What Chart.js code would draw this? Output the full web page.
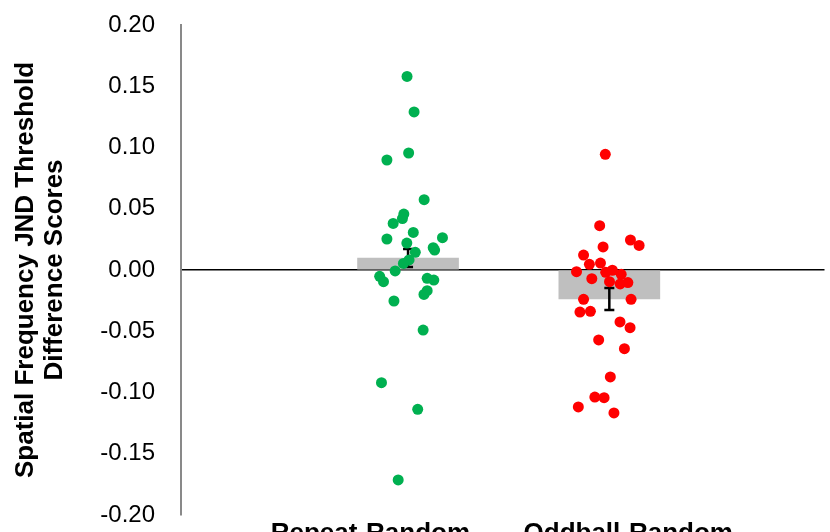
<!DOCTYPE html>
<html>
<head>
<meta charset="utf-8">
<script src="https://cdn.jsdelivr.net/npm/chart.js@4.4.1/dist/chart.umd.min.js"></script>
<style>
  body { margin: 0; background: #fff; overflow: hidden; }
  canvas { display: block; }
</style>
</head>
<body>
<canvas id="chart" width="830" height="532"></canvas>
<script>
// Category labels and where they sit on the x scale
const categories = ['Repeat-Random', 'Oddball-Random'];
const categoryTickPos = [0.813, 2.094];

// Mean difference scores (bars) and standard errors
const barPos = [1, 2];
const barMeans = [0.0098, -0.0237];
const barErrors = [0.0073, 0.0090];

// Individual participant scores (jittered x around the category)
const repeatX = [0.995, 1.030, 1.003, 0.895, 1.080, 0.979, 0.972, 0.926, 1.026, 0.895,
                 1.171, 0.994, 1.125, 1.132, 1.036, 1.005, 0.977, 0.936, 0.859, 0.878,
                 1.095, 1.128, 1.095, 1.079, 0.930, 1.075, 0.868, 1.048, 0.951];
const repeatY = [0.158, 0.129, 0.0955, 0.0898, 0.0574, 0.0457, 0.042, 0.038, 0.0307, 0.0253,
                 0.0264, 0.022, 0.0182, 0.0163, 0.0144, 0.0082, 0.0054, -0.0008, -0.0052, -0.0095,
                 -0.0068, -0.0082, -0.0169, -0.0199, -0.0253, -0.049, -0.092, -0.1137, -0.1714];

const oddballX = [1.980, 1.952, 2.105, 2.148, 1.969, 1.872, 1.901, 1.956, 1.837, 1.913,
                  1.982, 2.015, 2.059, 2.001, 2.054, 2.092, 1.872, 2.108, 1.854, 1.906,
                  2.053, 2.103, 1.947, 2.075, 2.005, 1.928, 1.974, 1.846, 2.023];
const oddballY = [0.0944, 0.0362, 0.0245, 0.0201, 0.0188, 0.0122, 0.0046, 0.0057, -0.0014, -0.0071,
                  -0.0019, -0.0002, -0.0035, -0.0095, -0.0114, -0.0103, -0.0239, -0.0239, -0.0343, -0.0337,
                  -0.0424, -0.0471, -0.0571, -0.0642, -0.0873, -0.1037, -0.1042, -0.1118, -0.1167];

const yTicks = [-0.20, -0.15, -0.10, -0.05, 0.00, 0.05, 0.10, 0.15, 0.20];

const FONT = "'Liberation Sans', Arial, sans-serif";

function toPoints(xs, ys) {
    return xs.map((x, i) => ({ x: x, y: ys[i] }));
}

// Draw error bars right after the bar dataset, below the dots
const errorBarPlugin = {
    id: 'errorBars',
    afterDatasetDraw(chart, args) {
        if (args.index !== 2) return;
        const ctx = chart.ctx;
        const xs = chart.scales.x;
        const ys = chart.scales.y;
        ctx.save();
        ctx.strokeStyle = '#000';
        ctx.lineWidth = 2.5;
        barPos.forEach((p, i) => {
            const px = xs.getPixelForValue(p);
            const top = ys.getPixelForValue(barMeans[i] + barErrors[i]);
            const bot = ys.getPixelForValue(barMeans[i] - barErrors[i]);
            ctx.beginPath();
            ctx.moveTo(px, top); ctx.lineTo(px, bot);
            ctx.moveTo(px - 5, top); ctx.lineTo(px + 5, top);
            ctx.moveTo(px - 5, bot); ctx.lineTo(px + 5, bot);
            ctx.stroke();
        });
        ctx.restore();
    }
};

new Chart(document.getElementById('chart').getContext('2d'), {
    type: 'bar',
    data: {
        datasets: [
            {
                type: 'scatter',
                data: toPoints(repeatX, repeatY),
                backgroundColor: '#00B050',
                borderWidth: 0,
                pointRadius: 5.5,
                order: 0
            },
            {
                type: 'scatter',
                data: toPoints(oddballX, oddballY),
                backgroundColor: '#FF0000',
                borderWidth: 0,
                pointRadius: 5.5,
                order: 0
            },
            {
                type: 'bar',
                data: toPoints(barPos, barMeans),
                backgroundColor: '#BFBFBF',
                barThickness: 101,
                order: 2
            }
        ]
    },
    options: {
        responsive: false,
        animation: false,
        layout: { padding: { top: 25, right: 0, left: 0, bottom: 0 } },
        plugins: {
            legend: { display: false },
            tooltip: { enabled: false }
        },
        scales: {
            x: {
                type: 'linear',
                min: -0.128,
                max: 3.069,
                offset: false,
                grid: { display: false, drawTicks: false },
                border: { display: false },
                afterBuildTicks: scale => {
                    scale.ticks = categoryTickPos.map(v => ({ value: v }));
                },
                afterFit: scale => { scale.height = 17; },
                ticks: {
                    autoSkip: false,
                    maxRotation: 0,
                    padding: 3,
                    color: '#000',
                    font: { family: FONT, size: 26, weight: 'bold' },
                    callback: (v, i) => categories[i]
                }
            },
            y: {
                min: -0.2,
                max: 0.2,
                afterBuildTicks: scale => {
                    scale.ticks = yTicks.map(v => ({ value: v }));
                },
                afterFit: scale => { scale.width = 181; },
                grid: {
                    drawTicks: true,
                    tickLength: 26,
                    tickColor: 'rgba(0,0,0,0)',
                    color: ctx => (ctx.tick && ctx.tick.value === 0 ? '#000' : 'rgba(0,0,0,0)'),
                    lineWidth: 1.6
                },
                border: { display: true, color: '#898989', width: 2 },
                ticks: {
                    padding: 0,
                    color: '#000',
                    font: { family: FONT, size: 24 },
                    callback: v => v.toFixed(2)
                },
                title: {
                    display: true,
                    text: ['Spatial Frequency JND Threshold', 'Difference Scores'],
                    color: '#000',
                    font: { family: FONT, size: 26, weight: 'bold', lineHeight: 1.1 },
                    padding: { top: 12, bottom: 0 }
                }
            }
        }
    },
    plugins: [errorBarPlugin]
});
</script>
</body>
</html>
